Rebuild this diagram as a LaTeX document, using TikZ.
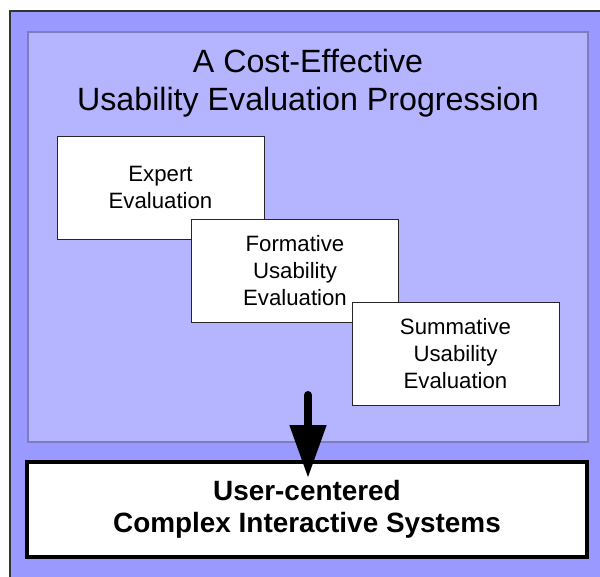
\documentclass[tikz,border=0pt]{standalone}
\usepackage{fontspec}
\setmainfont{Liberation Sans}
\usepackage{tikz}
\usetikzlibrary{arrows.meta,positioning}
\definecolor{outerblue}{RGB}{153,153,255}
\definecolor{innerblue}{RGB}{180,180,255}
\definecolor{innerline}{RGB}{125,125,190}
\tikzstyle{stagebox}=[rectangle, draw=black!85, fill=white, line width=1pt,
                      minimum width=207pt, minimum height=103pt,
                      align=center, font=\fontsize{22.2}{27}\selectfont,
                      inner sep=0pt]
\tikzstyle{goalbox} =[rectangle, draw=black, fill=white, line width=4pt,
                      minimum width=560pt, minimum height=95pt,
                      align=center, font=\fontsize{27.9}{32}\selectfont\bfseries,
                      inner sep=0pt]
\tikzstyle{bigarrow}=[-{Triangle[length=53pt,width=35pt]}, line width=8pt,
                      line cap=round]

\begin{document}
\begin{tikzpicture}[x=1pt, y=-1pt, node distance=1pt, on grid]
  \useasboundingbox (0,0) rectangle (600,576);
  % background panels
  \draw[fill=outerblue, draw=black!80, line width=1.5pt] (10,11) rectangle (620,600);
  \draw[fill=innerblue, draw=innerline, line width=1.5pt] (28,32) rectangle (588,442);

  \node[align=center, font=\fontsize{32.2}{38.5}\selectfont] (title) at (308,83)
        {A Cost-Effective\\Usability Evaluation Progression};

  \node[stagebox] (expert) at (160.5,187.5) {Expert\\Evaluation};
  \node[stagebox] (formative) [below right=83pt and 134.5pt of expert]
        {Formative\\Usability\\Evaluation};
  \node[stagebox] (summative) [below right=83pt and 160.5pt of formative]
        {Summative\\Usability\\Evaluation};

  \node[goalbox] (systems) at (307,509.5)
        {User-centered\\Complex Interactive Systems};

  \coordinate (arrowtop) at (308,395);
  \coordinate (arrowtip) at (308,478);
  \draw[bigarrow] (arrowtop) to (arrowtip);
\end{tikzpicture}
\end{document}
